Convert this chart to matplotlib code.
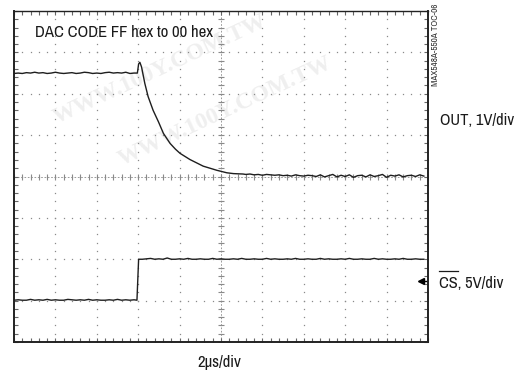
import numpy as np
import matplotlib
matplotlib.use("Agg")
import matplotlib.pyplot as plt
from matplotlib.lines import Line2D

# ---------------- data (in scope divisions) ----------------
# OUT trace: flat part before the code change (t = 0.0 .. 2.9 div, step 0.1)
out_pre_v = [6.49, 6.50, 6.49, 6.51, 6.50, 6.52, 6.50, 6.51, 6.49, 6.50,
             6.52, 6.50, 6.49, 6.50, 6.51, 6.49, 6.50, 6.52, 6.51, 6.49,
             6.50, 6.49, 6.51, 6.52, 6.50, 6.51, 6.50, 6.52, 6.49, 6.50]
# OUT trace: glitch + settling
out_edge_t = [2.98, 3.01, 3.04, 3.08, 3.16, 3.24, 3.36, 3.49, 3.61, 3.77,
              3.90, 4.01, 4.25, 4.57, 4.90, 5.14, 5.30, 5.53]
out_edge_v = [6.50, 6.72, 6.76, 6.65, 6.25, 5.93, 5.60, 5.32, 5.04, 4.80,
              4.66, 4.56, 4.41, 4.25, 4.15, 4.09, 4.07, 4.06]
# OUT trace: settled tail (t = 5.6 .. 9.9 div, step 0.1)
out_tail_v = [4.05, 4.06, 4.04, 4.05, 4.03, 4.05, 4.04, 4.03, 4.04, 4.02,
              4.03, 4.01, 4.04, 4.02, 4.01, 4.03, 4.02, 4.00, 4.04, 3.99,
              4.02, 4.05, 3.99, 4.03, 4.00, 4.04, 3.98, 4.02, 4.03, 3.99,
              4.04, 4.00, 4.02, 4.05, 3.98, 4.03, 4.01, 4.04, 3.99, 4.02,
              4.03, 4.00, 4.04, 4.01]

# CS trace: low before edge (t = 0.0 .. 2.9), edge, high after (t = 3.1 .. 9.9)
cs_pre_v = [1.01, 1.02, 1.01, 1.01, 1.03, 1.01, 1.02, 1.01, 1.03, 1.01,
            1.02, 1.01, 1.01, 1.03, 1.02, 1.01, 1.02, 1.01, 1.03, 1.01,
            1.02, 1.01, 1.01, 1.02, 1.01, 1.03, 1.01, 1.02, 1.01, 1.02]
cs_edge_t = [2.97, 3.01]
cs_edge_v = [1.01, 2.00]
cs_post_v = [2.00, 2.01, 2.02, 2.00, 2.01, 2.00, 2.03, 2.00, 2.00, 2.01,
             2.00, 2.02, 2.00, 2.00, 2.01, 2.00, 2.00, 2.02, 2.00, 2.01,
             2.00, 2.00, 2.01, 2.00, 2.02, 2.00, 2.00, 2.01, 2.00, 2.00,
             2.02, 2.00, 2.01, 2.00, 2.00, 2.01, 2.00, 2.02, 2.00, 2.00,
             2.01, 2.00, 2.00, 2.02, 2.00, 2.01, 2.00, 2.00, 2.01, 2.00,
             2.02, 2.00, 2.00, 2.01, 2.00, 2.00, 2.02, 2.00, 2.01, 2.00,
             2.00, 2.01, 2.00, 2.02, 2.00, 2.00, 2.01, 2.00, 2.00]

title_text = "DAC CODE FF hex to 00 hex"
out_label = "OUT, 1V/div"
cs_label = "CS, 5V/div"
x_label = "2\u00b5s/div"
side_id = "MAX548A-550A TOC-06"
watermark = "WWW.100Y.COM.TW"

N_X, N_Y = 10, 8

# ---------------- assemble traces ----------------
out_t = np.concatenate([np.arange(len(out_pre_v)) * 0.1, out_edge_t,
                        5.6 + np.arange(len(out_tail_v)) * 0.1])
out_v = np.concatenate([out_pre_v, out_edge_v, out_tail_v])
cs_t = np.concatenate([np.arange(len(cs_pre_v)) * 0.1, cs_edge_t,
                       3.1 + np.arange(len(cs_post_v)) * 0.1])
cs_v = np.concatenate([cs_pre_v, cs_edge_v, cs_post_v])

W, H = 526, 371
fig = plt.figure(figsize=(W / 100, H / 100), dpi=100)
fig.patch.set_facecolor("white")

FONT = ["Liberation Sans Narrow", "Archivo Narrow", "Liberation Sans", "DejaVu Sans"]

def fx(px):
    return px / W

def fy(py):
    return 1 - py / H

# watermark (very faint)
for (cx, cy) in [(160, 70), (225, 112)]:
    fig.text(fx(cx), fy(cy), watermark, rotation=25, ha="center", va="center",
             fontsize=17, fontweight="bold", family=["Liberation Serif"],
             color="#efefef", zorder=-5)

ax = fig.add_axes([fx(14), 1 - 342 / H, 414 / W, 331 / H])
ax.set_facecolor("none")
ax.set_xlim(0, N_X)
ax.set_ylim(0, N_Y)

# dotted graticule
sub = np.arange(0, N_X + 0.001, 0.2)
suby = np.arange(0, N_Y + 0.001, 0.2)
gcol = "#8a8a8a"
for gx in range(1, N_X):
    ax.plot(np.full_like(suby, gx), suby, ls="none", marker="s", ms=0.9,
            mec="none", mfc=gcol, zorder=1)
for gy in range(1, N_Y):
    ax.plot(sub, np.full_like(sub, gy), ls="none", marker="s", ms=0.9,
            mec="none", mfc=gcol, zorder=1)
# centre axes with small cross ticks
ax.plot(sub, np.full_like(sub, N_Y / 2), ls="none", marker="|", ms=4,
        mew=0.8, color=gcol, zorder=1)
ax.plot(np.full_like(suby, N_X / 2), suby, ls="none", marker="_", ms=4,
        mew=0.8, color=gcol, zorder=1)
ax.plot([0, N_X], [N_Y / 2, N_Y / 2], ls=(0, (2, 2)), lw=0.6, color=gcol, zorder=1)
ax.plot([N_X / 2, N_X / 2], [0, N_Y], ls=(0, (2, 2)), lw=0.6, color=gcol, zorder=1)

# traces
ax.plot(out_t, out_v, color="#1e1e1e", lw=1.0, zorder=3)
ax.plot(cs_t, cs_v, color="#1e1e1e", lw=1.0, zorder=3)

# frame and border ticks
for s in ax.spines.values():
    s.set_linewidth(1.4)
    s.set_color("#222222")
ax.spines["top"].set_linewidth(1.0)
ax.set_xticks(np.arange(0, N_X + 1, 1))
ax.set_yticks(np.arange(0, N_Y + 1, 1))
ax.set_xticks(sub, minor=True)
ax.set_yticks(suby, minor=True)
ax.tick_params(which="both", direction="in", length=3, width=0.8, colors="#666666",
               top=True, right=True, labelbottom=False, labelleft=False)

# ground-reference arrow for CS
fig.add_artist(Line2D([fx(420), fx(426)], [fy(281), fy(281)], color="black", lw=1.0))
fig.add_artist(Line2D([fx(420.5)], [fy(281)], marker="<", ms=5, color="black", ls="none"))

# texts
fig.text(fx(35), fy(36.7), title_text, fontsize=12.0, family=FONT, color="#1a1a1a",
         va="baseline", ha="left")
fig.text(fx(440.5), fy(4), side_id, rotation=90, fontsize=6.6, family=FONT,
         color="#333333", va="top", ha="right")
fig.text(fx(440), fy(125), out_label, fontsize=11.9, family=FONT, color="#1a1a1a",
         va="baseline", ha="left")
cs_txt = fig.text(fx(439), fy(288.3), cs_label, fontsize=11.9, family=FONT,
                  color="#1a1a1a", va="baseline", ha="left")
cs_part = fig.text(fx(439), fy(288.3), "CS", fontsize=11.9, family=FONT,
                   color="#1a1a1a", va="baseline", ha="left", alpha=0)
fig.text(fx(219), fy(367), x_label, fontsize=12.0, family=FONT, color="#1a1a1a",
         va="baseline", ha="center")

fig.canvas.draw()
bb = cs_part.get_window_extent()
fig.add_artist(Line2D([bb.x0 / W, bb.x1 / W], [fy(271), fy(271)], color="#1a1a1a", lw=0.9))

fig.savefig("out.png", dpi=100)
